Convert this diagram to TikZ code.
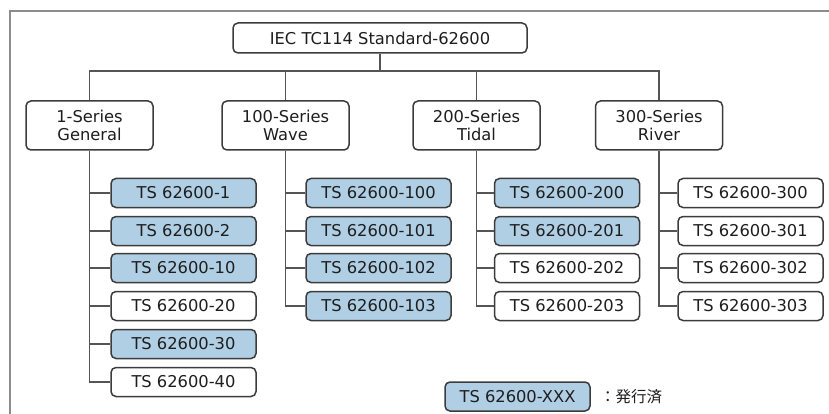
\documentclass[tikz,border=0pt]{standalone}
\usepackage{fontspec}
\setmainfont{DejaVu Sans}
\newfontfamily\cjk{Noto Sans CJK JP}
\definecolor{boxblue}{HTML}{B0CFE5}
\definecolor{edge}{HTML}{3C3C3C}
\definecolor{wire}{HTML}{555555}
\definecolor{framegray}{HTML}{8C8C8C}
\definecolor{txt}{HTML}{1E1E1E}
\begin{document}
\begin{tikzpicture}[x=1pt,y=-1pt,
  base/.style={draw=edge, line width=1.5pt, rounded corners=5pt, inner sep=0pt,
    font=\fontsize{16.3}{18}\selectfont, text=txt},
  rootbox/.style={base, fill=white, minimum width=294pt, minimum height=30pt},
  serbox/.style={base, fill=white, minimum width=127pt, minimum height=49pt, align=center},
  pub/.style={base, fill=boxblue, minimum width=145pt, minimum height=29pt},
  unpub/.style={base, fill=white, minimum width=145pt, minimum height=29pt},
  wireline/.style={draw=wire, line width=1.4pt}
]
\useasboundingbox (0,0) rectangle (829,414);
\fill[white] (0,0) rectangle (829,414);
\draw[framegray, line width=2pt] (10,420) -- (10,11) -- (835,11);

\node[rootbox] (root) at (380,38) {IEC TC114 Standard-62600};

\node[serbox] (s1) at (89.5,125.5) {1-Series\\General};
\node[serbox] (s2) at (285.5,125.5) {100-Series\\Wave};
\node[serbox] (s3) at (476.5,125.5) {200-Series\\Tidal};
\node[serbox] (s4) at (659,125.5) {300-Series\\River};

\coordinate (bus) at (380,71);
\draw[wireline] (root.south) -- (root.south |- bus);
\draw[wireline] (s1.north) |- (bus) -| (s4.north);
\draw[wireline] (s2.north) -- (s2.north |- bus);
\draw[wireline] (s3.north) -- (s3.north |- bus);

% 1-Series
\node[pub]   (a1) at (183.5,193) {TS 62600-1};
\node[pub]   (a2) at (183.5,231) {TS 62600-2};
\node[pub]   (a3) at (183.5,268) {TS 62600-10};
\node[unpub] (a4) at (183.5,306) {TS 62600-20};
\node[pub]   (a5) at (183.5,344) {TS 62600-30};
\node[unpub] (a6) at (183.5,382) {TS 62600-40};
\draw[wireline] (s1.south) |- (a6.west);
\foreach \n in {a1,a2,a3,a4,a5} \draw[wireline] (s1.south |- \n.west) -- (\n.west);

% 100-Series
\node[pub] (b1) at (378.5,193) {TS 62600-100};
\node[pub] (b2) at (378.5,231) {TS 62600-101};
\node[pub] (b3) at (378.5,268) {TS 62600-102};
\node[pub] (b4) at (378.5,306) {TS 62600-103};
\draw[wireline] (s2.south) |- (b4.west);
\foreach \n in {b1,b2,b3} \draw[wireline] (s2.south |- \n.west) -- (\n.west);

% 200-Series
\node[pub]   (c1) at (567,193) {TS 62600-200};
\node[pub]   (c2) at (567,231) {TS 62600-201};
\node[unpub] (c3) at (567,268) {TS 62600-202};
\node[unpub] (c4) at (567,306) {TS 62600-203};
\draw[wireline] (s3.south) |- (c4.west);
\foreach \n in {c1,c2,c3} \draw[wireline] (s3.south |- \n.west) -- (\n.west);

% 300-Series
\node[unpub] (d1) at (750.5,193) {TS 62600-300};
\node[unpub] (d2) at (750.5,231) {TS 62600-301};
\node[unpub] (d3) at (750.5,268) {TS 62600-302};
\node[unpub] (d4) at (750.5,306) {TS 62600-303};
\draw[wireline] (s4.south) |- (d4.west);
\foreach \n in {d1,d2,d3} \draw[wireline] (s4.south |- \n.west) -- (\n.west);

% legend
\node[pub] (leg) at (517.5,396.5) {TS 62600-XXX};
\node[anchor=west, inner sep=0pt, font=\cjk\fontsize{15.5}{17}\selectfont, text=txt] (legtxt) at (600,397) {：発行済};
\end{tikzpicture}
\end{document}
